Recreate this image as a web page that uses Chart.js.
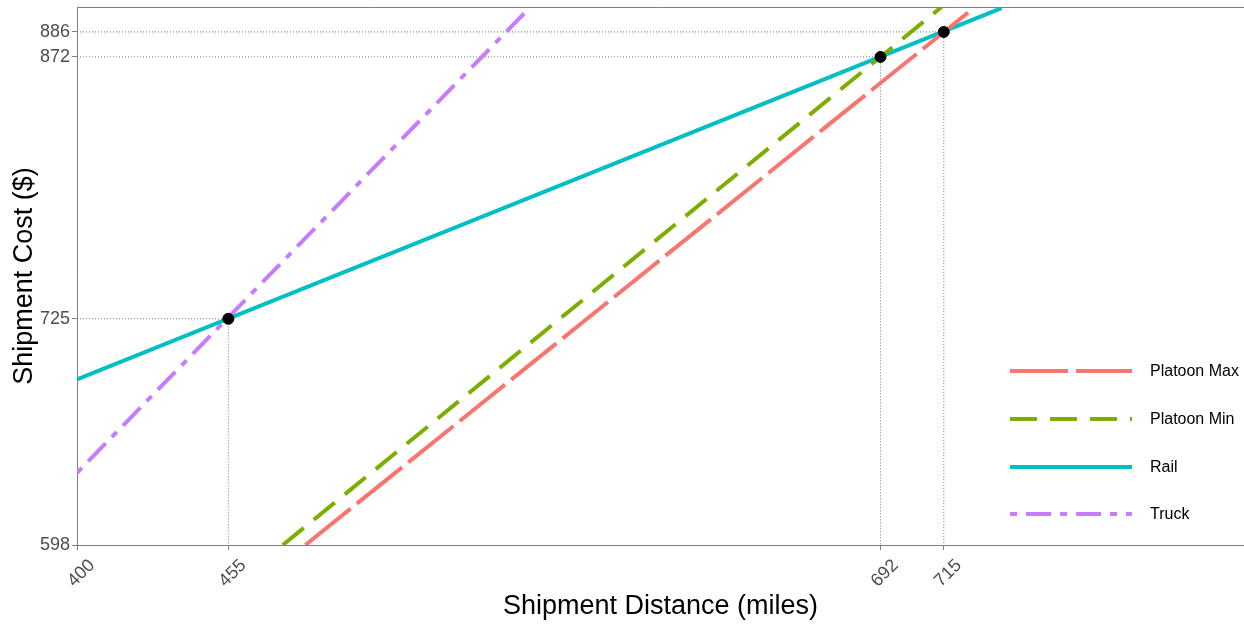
<!DOCTYPE html>
<html>
<head>
<meta charset="utf-8">
<script src="https://cdn.jsdelivr.net/npm/chart.js@4/dist/chart.umd.min.js"></script>
<style>
html,body{margin:0;padding:0;background:#fff;}
canvas{display:block;}
</style>
</head>
<body>
<canvas id="c" width="1244" height="625"></canvas>
<script>
// ---- Data ----
const seriesNames = ['Platoon Max', 'Platoon Min', 'Rail', 'Truck'];
const platoonMaxDist = [483, 725];
const platoonMaxCost = [598, 898.3];
const platoonMinDist = [474.8, 714.2];
const platoonMinCost = [598, 900];
const railDist = [400, 736];
const railCost = [691, 899.4];
const truckDist = [400, 563.5];
const truckCost = [638.5, 898];
const breakEvenDist = [455, 692, 715];
const breakEvenCost = [725, 872, 886];
const xTickValues = [400, 455, 692, 715];
const yTickValues = [598, 725, 872, 886];
const xRange = [400, 824.1];
const yRange = [598, 900];

const seriesColors = ['#F8766D', '#7CAE00', '#00BFC4', '#C77CFF'];
const seriesDash = [[58, 8], [27, 13], [], [7, 9, 25, 9]];

const zip = (xs, ys) => xs.map((x, i) => ({x: x, y: ys[i]}));
const lineData = [
  zip(platoonMaxDist, platoonMaxCost),
  zip(platoonMinDist, platoonMinCost),
  zip(railDist, railCost),
  zip(truckDist, truckCost)
];

const FONT = '"Liberation Sans", Arial, sans-serif';

const datasets = [];
// break-even points
datasets.push({
  label: 'points', data: zip(breakEvenDist, breakEvenCost),
  pointRadius: 5.5, pointBackgroundColor: '#000', pointBorderColor: '#000',
  showLine: false, order: 0
});
// series lines
lineData.forEach((d, i) => {
  datasets.push({
    label: seriesNames[i], data: d, showLine: true, pointRadius: 0,
    borderColor: seriesColors[i], borderWidth: 4, borderDash: seriesDash[i],
    borderCapStyle: 'butt', order: 1, isSeries: true
  });
});
// dotted reference lines
breakEvenDist.forEach((x, i) => {
  const y = breakEvenCost[i];
  datasets.push({
    label: 'ref' + i,
    data: [{x: xRange[0], y: y}, {x: x, y: y}, {x: x, y: yRange[0]}],
    showLine: true, pointRadius: 0, borderColor: '#777777', borderWidth: 1,
    borderDash: [1, 2], order: 2
  });
});

const legendPlugin = {
  id: 'customLegend',
  afterDraw(chart) {
    const ctx = chart.ctx;
    const series = chart.data.datasets.filter(d => d.isSeries);
    const rowY = [371, 419, 467, 514];
    ctx.save();
    series.forEach((d, i) => {
      ctx.beginPath();
      ctx.strokeStyle = d.borderColor;
      ctx.lineWidth = 4;
      ctx.setLineDash(d.borderDash || []);
      ctx.moveTo(1010, rowY[i]);
      ctx.lineTo(1132, rowY[i]);
      ctx.stroke();
      ctx.setLineDash([]);
      ctx.fillStyle = '#000';
      ctx.font = '16px ' + FONT;
      ctx.textAlign = 'left';
      ctx.textBaseline = 'middle';
      ctx.fillText(d.label, 1150, rowY[i] + 1);
    });
    ctx.restore();
  }
};

const borderPlugin = {
  id: 'panelBorder',
  afterDraw(chart) {
    const a = chart.chartArea, ctx = chart.ctx;
    ctx.save();
    ctx.strokeStyle = '#7f7f7f';
    ctx.lineWidth = 1;
    ctx.beginPath();
    ctx.moveTo(a.left, a.top + 0.5);
    ctx.lineTo(a.right, a.top + 0.5);
    ctx.stroke();
    ctx.restore();
  }
};

new Chart(document.getElementById('c'), {
  type: 'scatter',
  data: {datasets: datasets},
  plugins: [legendPlugin, borderPlugin],
  options: {
    responsive: false,
    animation: false,
    layout: {autoPadding: false, padding: {top: 7, right: 0, left: 0, bottom: 0}},
    plugins: {legend: {display: false}, tooltip: {enabled: false}},
    scales: {
      x: {
        type: 'linear', min: xRange[0], max: xRange[1],
        afterBuildTicks: s => { s.ticks = xTickValues.map(v => ({value: v})); },
        afterFit: s => { s.height = 80; s.paddingLeft = 0; s.paddingRight = 0; s.paddingTop = 0; s.paddingBottom = 0; },
        ticks: {
          autoSkip: false, minRotation: 45, maxRotation: 45,
          color: '#4d4d4d', font: {size: 18, family: FONT},
          padding: 5, labelOffset: 15,
          callback: v => String(v)
        },
        grid: {drawOnChartArea: false, drawTicks: true, tickLength: 5, color: '#7f7f7f'},
        border: {display: true, color: '#7f7f7f', width: 1},
        title: {
          display: true, text: 'Shipment Distance (miles)', color: '#000',
          font: {size: 27, family: FONT},
          padding: {top: 0, bottom: 2}
        }
      },
      y: {
        type: 'linear', min: yRange[0], max: yRange[1],
        afterBuildTicks: s => { s.ticks = yTickValues.map(v => ({value: v})); },
        afterFit: s => { s.width = 77; s.paddingLeft = 0; s.paddingRight = 0; s.paddingTop = 0; s.paddingBottom = 0; },
        ticks: {
          autoSkip: false, color: '#4d4d4d',
          font: {size: 18, family: FONT},
          padding: 2, callback: v => String(v)
        },
        grid: {drawOnChartArea: false, drawTicks: true, tickLength: 5, color: '#7f7f7f'},
        border: {display: true, color: '#7f7f7f', width: 1},
        title: {
          display: true, text: 'Shipment Cost ($)', color: '#000',
          font: {size: 27, family: FONT},
          padding: {top: 8, bottom: 0}
        }
      }
    }
  }
});
</script>
</body>
</html>
